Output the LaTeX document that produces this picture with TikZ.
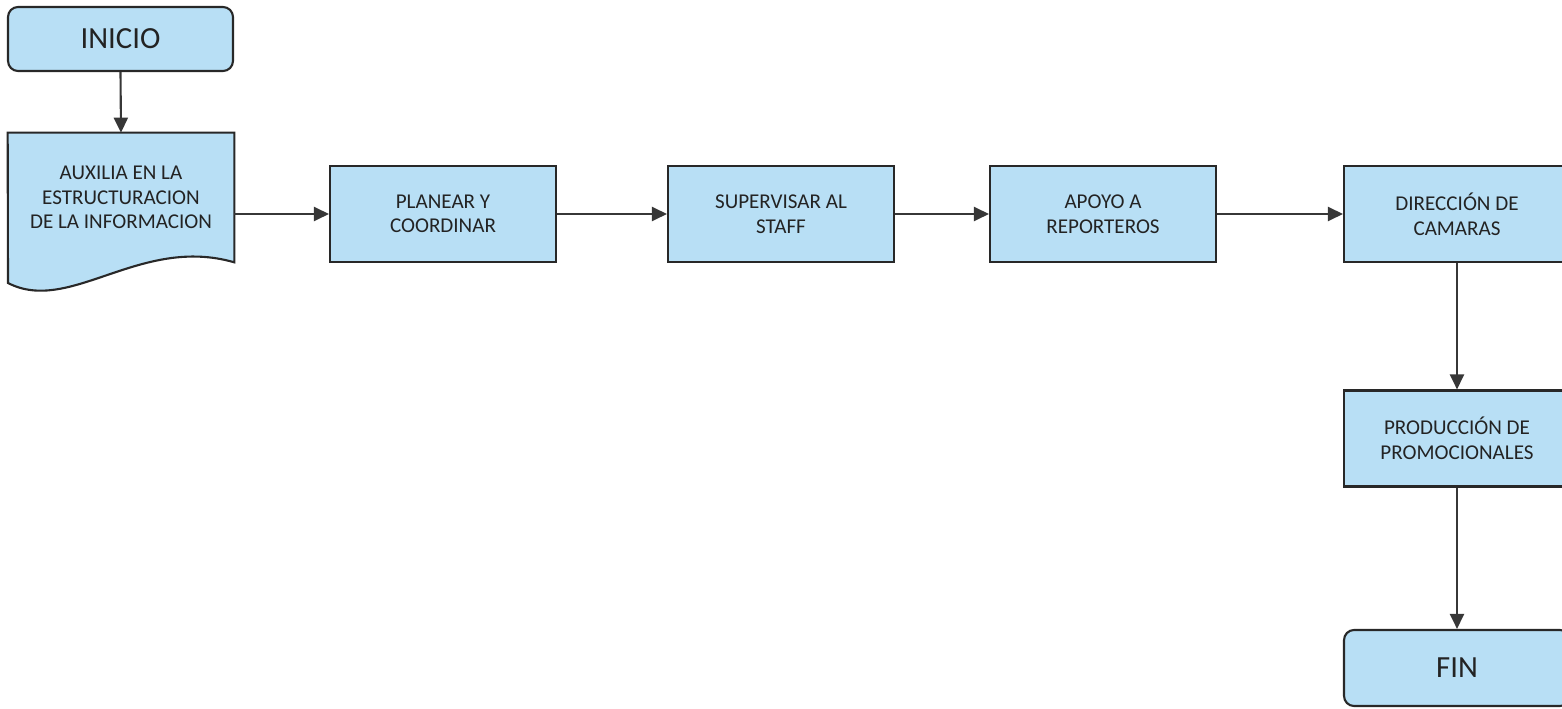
\documentclass[tikz,border=0pt]{standalone}
\usepackage{fontspec}
\setmainfont{Carlito}
\usetikzlibrary{arrows.meta}

\definecolor{boxblue}{RGB}{184,223,245}
\definecolor{boxline}{RGB}{40,40,40}
\definecolor{arrowgray}{RGB}{55,55,55}
\definecolor{txtgray}{RGB}{35,35,35}

\tikzset{
  box/.style={draw=boxline, fill=boxblue, line width=1.2pt, minimum width=4.52cm,
    minimum height=1.92cm, align=center, text=txtgray, font=\fontsize{12}{14}\selectfont},
  endbox/.style={box, rounded corners=0.2cm, font=\fontsize{17.5}{20}\selectfont},
  arr/.style={-{Triangle[length=0.3cm, width=0.28cm]}, draw=arrowgray, line width=1.2pt}
}

\begin{document}
\begin{tikzpicture}[x=0.02cm, y=-0.02cm]

  \useasboundingbox (0,0) rectangle (1562,709);

  % -- Start and end --
  \node[endbox, minimum height=1.28cm, minimum width=4.5cm] (inicio) at (120.5,39) {INICIO};
  \node[endbox, minimum height=1.52cm] (fin) at (1457,668) {FIN};

  % -- Document shape (wavy bottom) --
  \node[minimum width=4.52cm, minimum height=2.58cm] (doc) at (121,197.5) {};
  \draw[draw=boxline, fill=boxblue, line width=1.2pt]
    (doc.north west) -- (doc.north east) -- (doc.south east)
    .. controls (140,235) and (70,315) .. (8,283) -- cycle;
  \node[align=center, text=txtgray, font=\fontsize{12}{14}\selectfont] (doctext) at (doc.center)
    {AUXILIA EN LA\\ESTRUCTURACION\\DE LA INFORMACION};

  % -- Process boxes --
  \node[box] (planear) at (443,214) {PLANEAR Y\\COORDINAR};
  \node[box] (staff) at (781,214) {SUPERVISAR AL\\STAFF};
  \node[box] (apoyo) at (1103,214) {APOYO A\\REPORTEROS};
  \node[box] (camaras) at (1457,214) {DIRECCIÓN DE\\CAMARAS};
  \node[box] (promo) at (1457,438.5) {PRODUCCIÓN DE\\PROMOCIONALES};

  % -- Connectors --
  \draw[arr] (inicio.south) -- (doc.north);
  \draw[arr] (doc.east |- planear.west) -- (planear.west);
  \draw[arr] (planear.east) -- (staff.west);
  \draw[arr] (staff.east) -- (apoyo.west);
  \draw[arr] (apoyo.east) -- (camaras.west);
  \draw[arr] (camaras.south) -- (promo.north);
  \draw[arr] (promo.south) -- (fin.north);

\end{tikzpicture}
\end{document}
